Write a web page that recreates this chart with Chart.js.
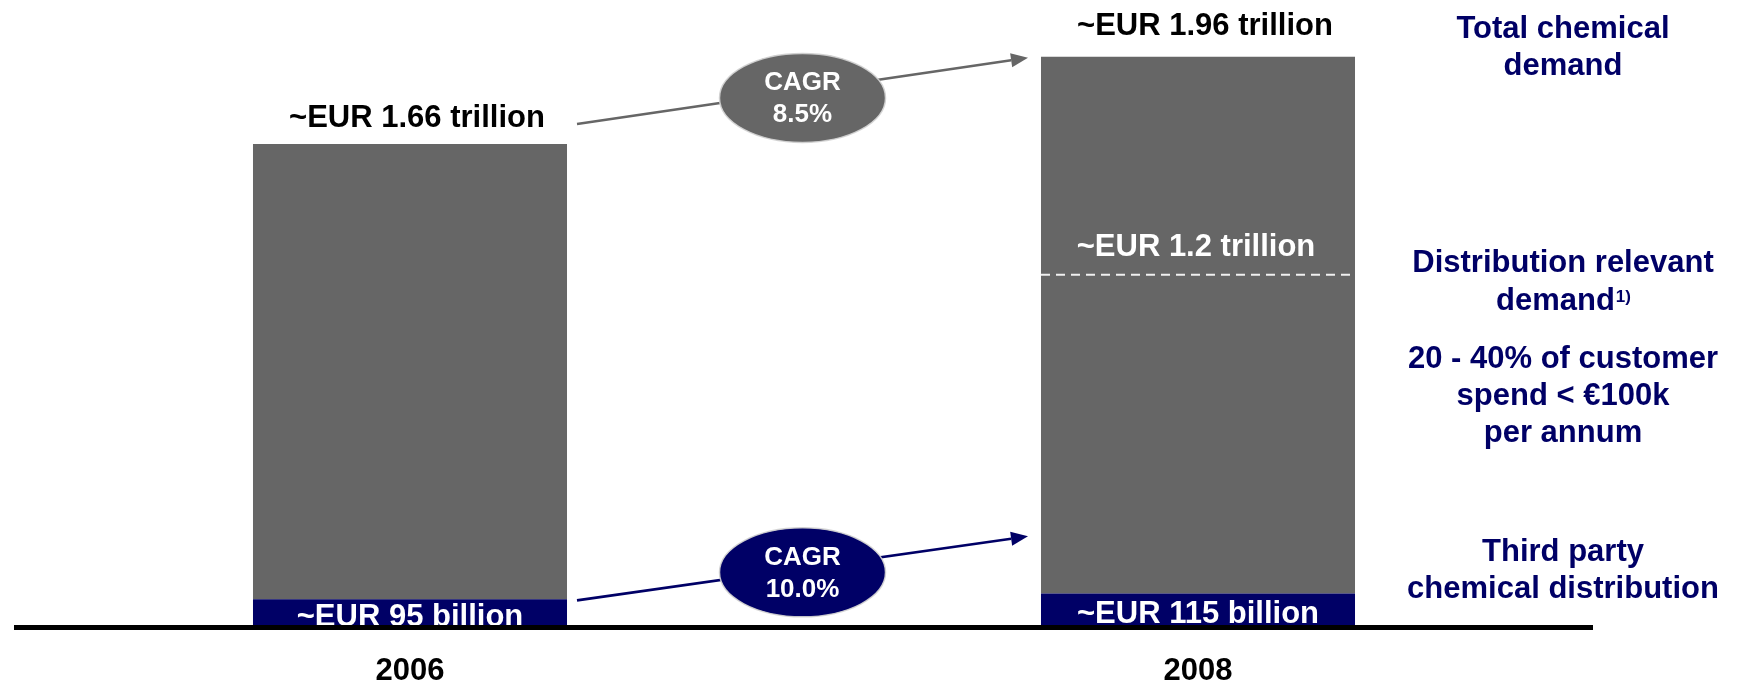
<!DOCTYPE html>
<html>
<head>
<meta charset="utf-8">
<script src="https://cdn.jsdelivr.net/npm/chart.js@4/dist/chart.umd.min.js"></script>
<style>
html,body{margin:0;padding:0;background:#ffffff;}
#wrap{width:1738px;height:686px;position:relative;}
</style>
</head>
<body>
<div id="wrap"><canvas id="c" width="1738" height="686"></canvas></div>
<script>
// ---- data (EUR trillion) ----
const years = ['2006', '2008'];
const thirdPartyDistribution = [0.095, 0.115];
const otherDemand = [1.565, 1.845];
const totalDemand = [1.66, 1.96];
const distributionRelevant = [null, 1.2];

// ---- text ----
const totalLabels = ['~EUR 1.66 trillion', '~EUR 1.96 trillion'];
const thirdPartyLabels = ['~EUR 95 billion', '~EUR 115 billion'];
const distributionLabels = [null, '~EUR 1.2 trillion'];
const cagrTotal = ['CAGR', '8.5%'];
const cagrThirdParty = ['CAGR', '10.0%'];
const noteTotal = ['Total chemical', 'demand'];
const noteDistribution = ['Distribution relevant', 'demand'];
const noteDistributionSup = '1)';
const noteSpend = ['20 - 40% of customer', 'spend < \u20AC100k', 'per annum'];
const noteThirdParty = ['Third party', 'chemical distribution'];

const GRAY = '#666666';
const NAVY = '#000066';
const FONT = "'Liberation Sans', Arial, Helvetica, sans-serif";

const annotations = {
  id: 'annotations',
  afterDatasetsDraw(chart) {
    const ctx = chart.ctx;
    const y = chart.scales.y;
    const bars = chart.getDatasetMeta(1).data;
    const b0 = bars[0], b1 = bars[1];
    const left = b => b.x - b.width / 2;
    const right = b => b.x + b.width / 2;

    ctx.save();
    ctx.textAlign = 'center';
    ctx.textBaseline = 'alphabetic';

    // total labels above bars
    ctx.font = 'bold 31px ' + FONT;
    ctx.fillStyle = '#000000';
    const totalGap = [17, 22];
    totalDemand.forEach((v, i) => {
      const b = bars[i];
      ctx.fillText(totalLabels[i], b.x + 7, y.getPixelForValue(v) - totalGap[i]);
    });

    // third party labels inside navy bars
    ctx.fillStyle = '#ffffff';
    const innerGap = [26.5, 29];
    thirdPartyDistribution.forEach((v, i) => {
      const b = bars[i];
      ctx.fillText(thirdPartyLabels[i], b.x, y.getPixelForValue(v) + innerGap[i]);
    });

    // distribution relevant dashed line + label
    distributionRelevant.forEach((v, i) => {
      if (v == null) return;
      const b = bars[i];
      const py = y.getPixelForValue(v) - 3;
      ctx.save();
      ctx.strokeStyle = '#f0f0f0';
      ctx.lineWidth = 2;
      ctx.setLineDash([9, 6]);
      ctx.beginPath();
      ctx.moveTo(left(b), py);
      ctx.lineTo(right(b) - 2, py);
      ctx.stroke();
      ctx.restore();
      ctx.fillStyle = '#ffffff';
      ctx.fillText(distributionLabels[i], b.x - 2, py - 19);
    });

    // arrows with CAGR ellipses
    function arrow(x1, y1, x2, y2, color, lines, dy) {
      const ang = Math.atan2(y2 - y1, x2 - x1);
      const hl = 17, hw = 7;
      const bx = x2 - hl * Math.cos(ang), by = y2 - hl * Math.sin(ang);
      ctx.save();
      ctx.strokeStyle = color;
      ctx.fillStyle = color;
      ctx.lineWidth = 2.6;
      ctx.beginPath();
      ctx.moveTo(x1, y1);
      ctx.lineTo(bx, by);
      ctx.stroke();
      ctx.beginPath();
      ctx.moveTo(x2, y2);
      ctx.lineTo(bx + hw * Math.sin(ang), by - hw * Math.cos(ang));
      ctx.lineTo(bx - hw * Math.sin(ang), by + hw * Math.cos(ang));
      ctx.closePath();
      ctx.fill();
      const cx = (x1 + x2) / 2, cy = (y1 + y2) / 2 + dy;
      ctx.beginPath();
      ctx.ellipse(cx, cy, 83, 44.5, 0, 0, Math.PI * 2);
      ctx.fill();
      ctx.strokeStyle = 'rgba(210,210,210,0.9)';
      ctx.lineWidth = 1.5;
      ctx.stroke();
      ctx.fillStyle = '#ffffff';
      ctx.font = 'bold 26px ' + FONT;
      ctx.textAlign = 'center';
      ctx.textBaseline = 'middle';
      ctx.fillText(lines[0], cx, cy - 15);
      ctx.fillText(lines[1], cx, cy + 17);
      ctx.restore();
    }
    const ax1 = right(b0) + 10, ax2 = left(b1) - 13;
    const ty1 = y.getPixelForValue(totalDemand[0]) - 20;
    const ty2 = y.getPixelForValue(totalDemand[1]) + 1;
    arrow(ax1, ty1, ax2, ty2, GRAY, cagrTotal, 7);
    const by1 = y.getPixelForValue(thirdPartyDistribution[0]) + 1;
    arrow(ax1, by1, ax2, by1 - 64, NAVY, cagrThirdParty, 4);

    // side notes
    const nx = 1563;
    ctx.fillStyle = NAVY;
    ctx.font = 'bold 31px ' + FONT;
    ctx.textAlign = 'center';
    ctx.textBaseline = 'middle';
    const step = 37;
    const topTotal = y.getPixelForValue(totalDemand[1]) - 27;
    noteTotal.forEach((t, k) => ctx.fillText(t, nx, topTotal + k * step));
    const dashY = y.getPixelForValue(distributionRelevant[1]);
    const topDist = dashY - 14;
    ctx.fillText(noteDistribution[0], nx, topDist);
    // "demand" + superscript
    const w1 = ctx.measureText(noteDistribution[1]).width;
    ctx.font = 'bold 17px ' + FONT;
    const w2 = ctx.measureText(noteDistributionSup).width;
    const startX = nx - (w1 + w2) / 2;
    ctx.textAlign = 'left';
    ctx.font = 'bold 31px ' + FONT;
    ctx.fillText(noteDistribution[1], startX, topDist + 38);
    ctx.font = 'bold 17px ' + FONT;
    ctx.fillText(noteDistributionSup, startX + w1 + 1, topDist + 33);
    ctx.textAlign = 'center';
    ctx.font = 'bold 31px ' + FONT;
    const topSpend = dashY + 82;
    noteSpend.forEach((t, k) => ctx.fillText(t, nx, topSpend + k * step));
    const topThird = y.getPixelForValue(0) - 75;
    noteThirdParty.forEach((t, k) => ctx.fillText(t, nx, topThird + k * step));

    ctx.restore();
  }
};

new Chart(document.getElementById('c'), {
  type: 'bar',
  data: {
    labels: years,
    datasets: [
      { label: 'Third party chemical distribution', data: thirdPartyDistribution, backgroundColor: NAVY, borderWidth: 0 },
      { label: 'Other chemical demand', data: otherDemand, backgroundColor: GRAY, borderWidth: 0 }
    ]
  },
  options: {
    responsive: false,
    animation: false,
    events: [],
    layout: { padding: { left: 16, right: 146, top: 16, bottom: 0 } },
    datasets: { bar: { barPercentage: 1, categoryPercentage: 0.3985 } },
    plugins: { legend: { display: false }, tooltip: { enabled: false }, title: { display: false } },
    scales: {
      x: {
        stacked: true,
        grid: { display: false, drawTicks: false },
        border: { display: true, color: '#000000', width: 5, z: 1 },
        ticks: { color: '#000000', padding: 26, font: { family: FONT, size: 31, weight: 'bold' } },
        afterFit(scale) { scale.height = 59; }
      },
      y: {
        stacked: true,
        display: false,
        min: 0,
        max: 2.1
      }
    }
  },
  plugins: [annotations]
});
</script>
</body>
</html>
